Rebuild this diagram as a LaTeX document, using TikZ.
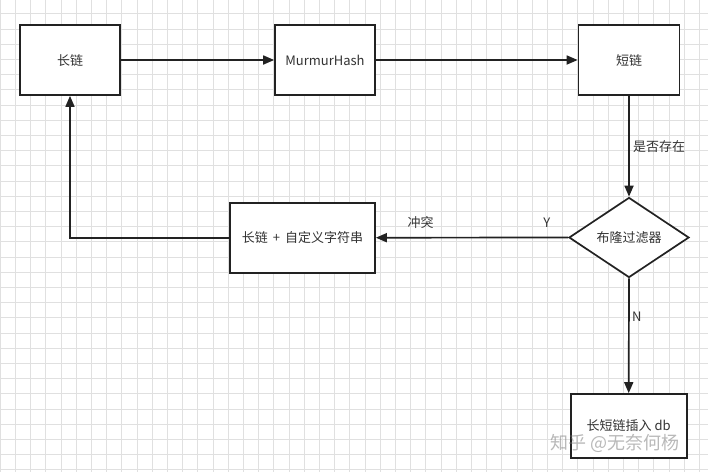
\documentclass[tikz,border=0pt]{standalone}
\usepackage{fontspec}
\setmainfont{Noto Sans CJK SC}
\usetikzlibrary{arrows.meta,shapes.geometric}
\definecolor{gridc}{HTML}{E0E0E0}
\definecolor{linec}{HTML}{222222}
\definecolor{txtc}{HTML}{333333}
\tikzset{
  boxn/.style={draw=linec, line width=1.7pt, fill=white, minimum width=#1, inner sep=0pt, text=txtc, font=\fontsize{13}{15}\selectfont},
  dia/.style={diamond, draw=linec, line width=1.7pt, fill=white, minimum width=120pt, minimum height=80pt, inner sep=0pt, aspect=1.5, text=txtc, font=\fontsize{13}{15}\selectfont},
  conn/.style={draw=linec, line width=1.7pt, -{Triangle[length=11pt,width=9pt]}},
  lbl/.style={text=txtc, font=\fontsize{13}{15}\selectfont, inner sep=0pt},
}
\begin{document}
\begin{tikzpicture}[x=1pt,y=-1pt]
\useasboundingbox (0,0) rectangle (708,472);
\fill[white] (0,0) rectangle (708,472);
\foreach \i in {0,...,47} {\draw[gridc, line width=0.6pt] (\i*15.2,0) -- (\i*15.2,472);}
\foreach \i in {0,...,31} {\draw[gridc, line width=0.6pt] (0,13.7+\i*15.2-15.2) -- (708,13.7+\i*15.2-15.2);}
\node[boxn=100pt, minimum height=70pt] (long) at (70,60) {长链};
\node[boxn=100pt, minimum height=70pt] (mm) at (325,60) {MurmurHash};
\node[boxn=101pt, minimum height=70pt] (short) at (629,60) {短链};
\node[dia] (bf) at (629,237.5) {布隆过滤器};
\node[boxn=145pt, minimum height=70pt] (ext) at (302.5,237.7) {长链 \,+\, 自定义字符串};
\node[boxn=116pt, minimum height=64pt] (ins) at (628.7,426) {长短链插入 db};
\draw[conn] (long.east) -- (mm.west);
\draw[conn] (mm.east) -- (short.west);
\draw[conn] (short.south) -- (bf.north);
\draw[conn] (bf.west) -- (ext.east);
\draw[conn] (bf.south) -- (ins.north);
\draw[conn] (ext.west) -| (long.south);
\node[lbl, anchor=west] (q) at (633,147) {是否存在};
\node[lbl] (ct) at (420.5,223) {冲突};
\node[lbl] (y) at (546.7,223) {Y};
\node[lbl] (n) at (636.7,317) {N};
\node[text=gray, opacity=0.55, font=\fontsize{18}{20}\selectfont, inner sep=0pt] (wm) at (615,443) {知乎 @无奈何杨};
\end{tikzpicture}
\end{document}
